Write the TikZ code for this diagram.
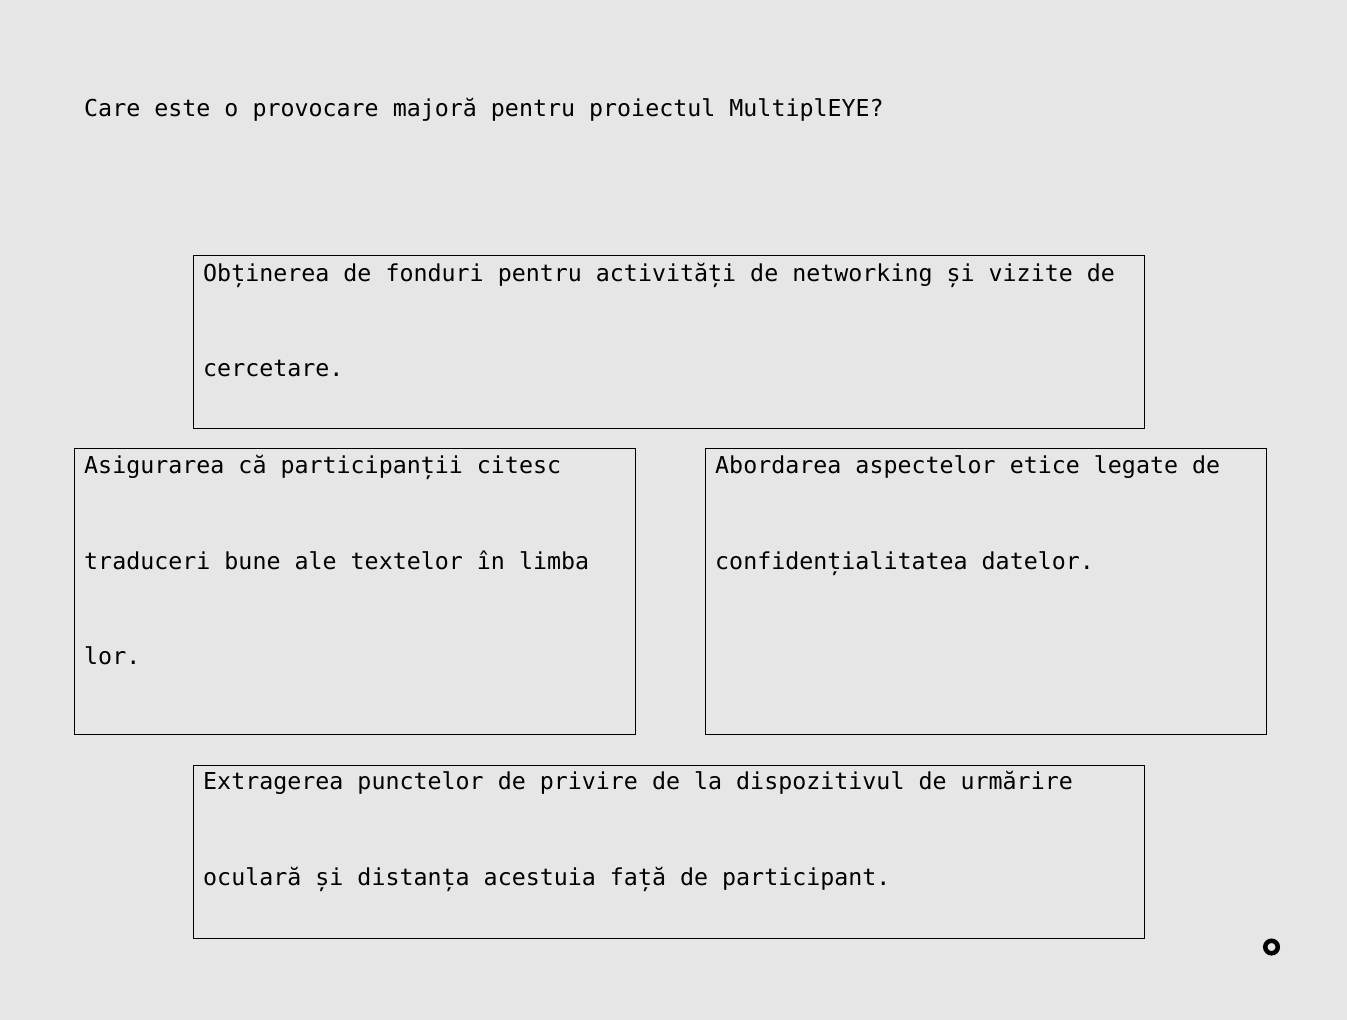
\documentclass[tikz,border=0pt]{standalone}
\usepackage{fontspec}
\newfontfamily\quizfont{DejaVu Sans Mono}
\definecolor{quizbg}{HTML}{E6E6E6}

\begin{document}
\begin{tikzpicture}[x=1pt,y=-1pt,
  answer/.style={draw=black,line width=1pt,anchor=north west,inner sep=0pt},
  line/.style={anchor=base west,inner sep=0pt,font=\quizfont\fontsize{23.3}{28}\selectfont}]
  \fill[quizbg] (0,0) rectangle (1347,1020);
  \useasboundingbox (0,0) rectangle (1347,1020);
  % question
  \node[line] (question) at (84,116) {Care este o provocare majoră pentru proiectul MultiplEYE?};
  % answer boxes
  \node[answer,minimum width=951pt,minimum height=173pt] (fund) at (193,255) {};
  \node[answer,minimum width=561pt,minimum height=286pt] (trans) at (74,448) {};
  \node[answer,minimum width=561pt,minimum height=286pt] (ethic) at (705,448) {};
  \node[answer,minimum width=951pt,minimum height=173pt] (gaze) at (193,765) {};
  % answer texts
  \node[line] (fund1) at (203,281) {Obținerea de fonduri pentru activități de networking și vizite de};
  \node[line] (fund2) at (203,376) {cercetare.};
  \node[line] (trans1) at (84,473) {Asigurarea că participanții citesc};
  \node[line] (trans2) at (84,569) {traduceri bune ale textelor în limba};
  \node[line] (trans3) at (84,664) {lor.};
  \node[line] (ethic1) at (715,473) {Abordarea aspectelor etice legate de};
  \node[line] (ethic2) at (715,569) {confidențialitatea datelor.};
  \node[line] (gaze1) at (203,789) {Extragerea punctelor de privire de la dispozitivul de urmărire};
  \node[line] (gaze2) at (203,885) {oculară și distanța acestuia față de participant.};
  % marker
  \draw[line width=4.5pt] (1271.5,947) circle(6.25);
\end{tikzpicture}
\end{document}
